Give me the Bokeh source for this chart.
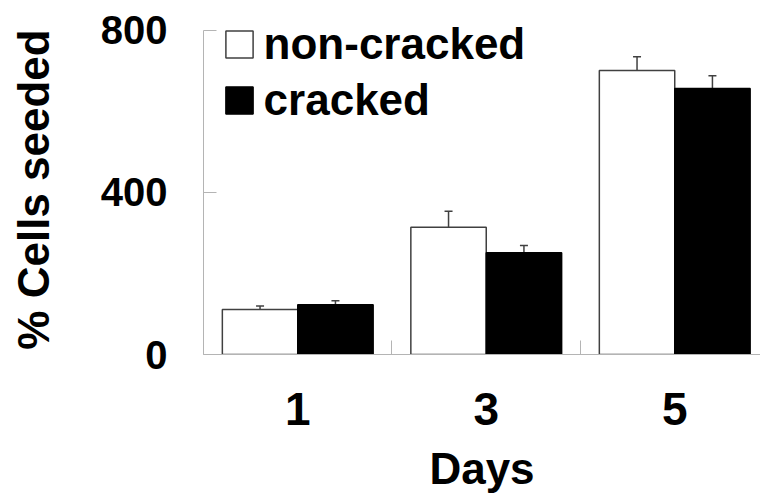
from bokeh.plotting import figure
from bokeh.models import (ColumnDataSource, FixedTicker, Range1d, Whisker, TeeHead,
                          Legend, LegendItem)
from bokeh.transform import dodge
from bokeh.embed import file_html
from bokeh.resources import INLINE

days = ["1", "3", "5"]
non_cracked = [111, 314, 701]
non_cracked_err = [9, 40, 34]
cracked = [123, 251, 657]
cracked_err = [10, 18, 31]
y_ticks = [0, 400, 800]

FONT = "Liberation Sans"
AXIS_COLOR = "#b4b4b4"
ERR_COLOR = "#404040"

idx = list(range(len(days)))
src = ColumnDataSource(dict(
    x=idx,
    nc=non_cracked,
    nc_up=[v + e for v, e in zip(non_cracked, non_cracked_err)],
    nc_lo=[v - e for v, e in zip(non_cracked, non_cracked_err)],
    c=cracked,
    c_up=[v + e for v, e in zip(cracked, cracked_err)],
    c_lo=[v - e for v, e in zip(cracked, cracked_err)],
))

# frame extends a little above the 800 tick so the legend text is not clipped
p = figure(width=760, height=494, output_backend="svg", toolbar_location=None,
           x_range=Range1d(-0.5, 2.455), y_range=Range1d(0, 814.8),
           min_border_left=203, min_border_right=0, min_border_top=24,
           min_border_bottom=140)
p.frame_width = 557
p.frame_height = 330
p.outline_line_color = None
p.xgrid.visible = False
p.ygrid.visible = False

r_nc = p.vbar(x=dodge("x", -0.2), top="nc", width=0.4, source=src,
              fill_color="white", line_color="#404040", line_width=1.5)
r_c = p.vbar(x=dodge("x", 0.2), top="c", width=0.4, source=src,
             fill_color="black", line_color="black", line_width=1.5)

for base, up, lo in [(dodge("x", -0.2), "nc_up", "nc_lo"), (dodge("x", 0.2), "c_up", "c_lo")]:
    w = Whisker(base=base, upper=up, lower=lo, source=src,
                line_color=ERR_COLOR, line_width=1.5,
                upper_head=TeeHead(size=8, line_color=ERR_COLOR, line_width=1.5),
                lower_head=TeeHead(size=8, line_color=ERR_COLOR, line_width=1.5))
    p.add_layout(w)

# x axis
xa = p.xaxis[0]
xa.ticker = FixedTicker(ticks=idx, minor_ticks=[i - 0.5 for i in idx] + [idx[-1] + 0.5])
xa.major_label_overrides = {i: d for i, d in zip(idx, days)}
xa.major_tick_in = 0
xa.major_tick_out = 0
xa.minor_tick_in = 14
xa.minor_tick_out = 0
xa.minor_tick_line_color = AXIS_COLOR
xa.axis_line_color = AXIS_COLOR
xa.major_label_text_font = FONT
xa.major_label_text_font_style = "bold"
xa.major_label_text_font_size = "46px"
xa.major_label_text_color = "black"
xa.major_label_standoff = 38
xa.axis_label = "Days"
xa.axis_label_text_font = FONT
xa.axis_label_text_font_style = "bold"
xa.axis_label_text_font_size = "44px"
xa.axis_label_text_color = "black"
xa.axis_label_standoff = 16

# y axis
ya = p.yaxis[0]
ya.ticker = FixedTicker(ticks=y_ticks, minor_ticks=[])
ya.bounds = (y_ticks[0], y_ticks[-1])
ya.major_tick_in = 13
ya.major_tick_out = 0
ya.major_tick_line_color = AXIS_COLOR
ya.axis_line_color = AXIS_COLOR
ya.major_label_text_font = FONT
ya.major_label_text_font_style = "bold"
ya.major_label_text_font_size = "40px"
ya.major_label_text_color = "black"
ya.major_label_standoff = 36
ya.axis_label = "% Cells seeded"
ya.axis_label_text_font = FONT
ya.axis_label_text_font_style = "bold"
ya.axis_label_text_font_size = "44px"
ya.axis_label_text_color = "black"
ya.axis_label_standoff = 40

legend = Legend(items=[LegendItem(label="non-cracked", renderers=[r_nc]),
                       LegendItem(label="cracked", renderers=[r_c])],
                orientation="vertical",
                glyph_width=34, glyph_height=34, label_standoff=8,
                label_text_font=FONT, label_text_font_style="bold",
                label_text_font_size="44px", label_text_color="black",
                spacing=6, padding=0, margin=0,
                border_line_alpha=0, background_fill_alpha=0)
legend.location = (18.6, 229)
p.add_layout(legend)

open("out.html", "w").write(file_html(p, INLINE))
